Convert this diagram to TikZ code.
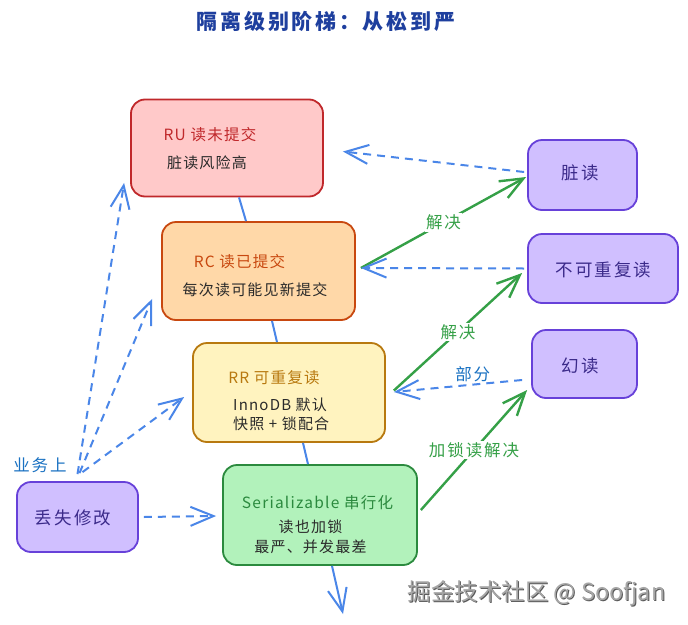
\documentclass[tikz,border=0pt]{standalone}
\usepackage{fontspec}
\setmainfont{Noto Sans CJK SC}[LetterSpace=8]
\newfontfamily\ttlfont{Noto Sans CJK SC}[LetterSpace=13]
\newfontfamily\lblfont{Noto Sans CJK SC}[LetterSpace=12]
\newfontfamily\wmfont{Noto Sans CJK SC}
\usetikzlibrary{arrows.meta}
\definecolor{ruF}{HTML}{FFC9C9}\definecolor{ruD}{HTML}{C0282B}
\definecolor{rcF}{HTML}{FFD8A8}\definecolor{rcD}{HTML}{C8480F}
\definecolor{rrF}{HTML}{FFF3BF}\definecolor{rrD}{HTML}{B8790F}
\definecolor{seF}{HTML}{B2F2BB}\definecolor{seD}{HTML}{2B8A3E}
\definecolor{puF}{HTML}{D0BFFF}\definecolor{puD}{HTML}{6741D9}
\definecolor{puT}{HTML}{3B2A8A}
\definecolor{arrB}{HTML}{4A86E8}
\definecolor{lblB}{HTML}{1971C2}
\definecolor{arrG}{HTML}{35A047}
\definecolor{ttl}{HTML}{1E3F9E}
\definecolor{subT}{HTML}{2A2A2A}
\begin{document}
\begin{tikzpicture}[x=1pt,y=-1pt,
  box/.style={rounded corners=14pt, line width=1.8pt, inner sep=0pt},
  ttext/.style={inner sep=0pt, font=\fontsize{15.5}{18}\selectfont},
  stext/.style={inner sep=0pt, text=subT, font=\fontsize{15}{18}\selectfont},
  ptext/.style={inner sep=0pt, text=puT, font=\lblfont\fontsize{17.5}{21}\selectfont},
  link/.style={draw=arrB, line width=2pt},
  dlink/.style={draw=arrB, line width=2pt, dash pattern=on 8pt off 6pt,
     -{Straight Barb[length=23pt,width=19pt]}},
  glink/.style={draw=arrG, line width=2.4pt, -{Straight Barb[length=23pt,width=19pt]}},
  glabel/.style={fill=white, inner sep=1.5pt, text=arrG, font=\lblfont\fontsize{16.5}{19}\selectfont},
  blabel/.style={inner sep=1pt, text=lblB, font=\lblfont\fontsize{16.5}{19}\selectfont}]
\useasboundingbox[fill=white] (0,0) rectangle (688,624);

% title
\node[inner sep=0pt, text=ttl, font=\ttlfont\fontsize{21}{24}\selectfont\bfseries] (title) at (326,21) {隔离级别阶梯：从松到严};

% level boxes
\node[box, fill=ruF, draw=ruD, minimum width=192pt, minimum height=97pt] (ru) at (227,148) {};
\node[box, fill=rcF, draw=rcD, minimum width=193pt, minimum height=98pt] (rc) at (258.5,271) {};
\node[box, fill=rrF, draw=rrD, minimum width=192pt, minimum height=99pt] (rr) at (289,392.5) {};
\node[box, fill=seF, draw=seD, minimum width=194pt, minimum height=100pt] (ser) at (320,515) {};

% problem boxes
\node[box, fill=puF, draw=puD, minimum width=109pt, minimum height=70pt] (dirty) at (582.5,175) {};
\node[box, fill=puF, draw=puD, minimum width=150pt, minimum height=69pt] (nonrep) at (603,268.5) {};
\node[box, fill=puF, draw=puD, minimum width=105pt, minimum height=68pt] (phantom) at (584.5,364) {};
\node[box, fill=puF, draw=puD, minimum width=121pt, minimum height=70pt] (lost) at (77.5,517) {};

% texts in level boxes
\node[ttext, text=ruD] (ru-t) at (210,135) {RU 读未提交};
\node[stext] (ru-s) at (207,163) {脏读风险高};
\node[ttext, text=rcD] (rc-t) at (239.5,262) {RC 读已提交};
\node[stext] (rc-s) at (255,290) {每次读可能见新提交};
\node[ttext, text=rrD] (rr-t) at (274,378) {RR 可重复读};
\node[stext, anchor=west] (rr-s1) at (233,405) {InnoDB 默认};
\node[stext, anchor=west] (rr-s2) at (233,424) {快照 + 锁配合};
\node[ttext, text=seD] (ser-t) at (317.5,503) {Serializable 串行化};
\node[stext] (ser-s1) at (310.5,527) {读也加锁};
\node[stext] (ser-s2) at (310.5,547) {最严、并发最差};

% texts in problem boxes
\node[ptext] (dirty-t) at (580,173) {脏读};
\node[ptext] (nonrep-t) at (603.5,270) {不可重复读};
\node[ptext] (phantom-t) at (580,366) {幻读};
\node[ptext] (lost-t) at (73,518) {丢失修改};

% ladder links
\draw[link] ([xshift=12pt]ru.south) -- ([xshift=-12.5pt]rc.north);
\draw[link] ([xshift=13.5pt]rc.south) -- ([xshift=-12pt]rr.north);
\draw[link] ([xshift=14pt]rr.south) -- ([xshift=-12pt]ser.north);
\coordinate (down) at (343,614);
\draw[link, -{Straight Barb[length=23pt,width=19pt]}] ([xshift=12pt]ser.south) -- (down);

% green "solves" arrows
\draw[glink] ([shift={(5pt,3pt)}]rc.east) -- node[glabel] (l1) {解决} ([shift={(-1pt,-2pt)}]dirty.west);
\draw[glink] ([shift={(8pt,2pt)}]rr.east) -- node[glabel] (l2) {解决} ([shift={(-5pt,-4.5pt)}]nonrep.west);
\draw[glink] ([shift={(3pt,5pt)}]ser.east) -- node[glabel] (l3) {加锁读解决} ([shift={(-4pt,-26pt)}]phantom.west);

% blue dashed arrows from problems
\draw[dlink] ([shift={(-3pt,3pt)}]dirty.west) -- ([shift={(19pt,-3.5pt)}]ru.east);
\draw[dlink] ([shift={(-3pt,0pt)}]nonrep.west) -- ([shift={(5pt,3pt)}]rc.east);
\draw[dlink] ([shift={(-9pt,-16pt)}]phantom.west) -- node[blabel, pos=0.385, above=1pt] (l4) {部分} ([shift={(8pt,0.5pt)}]rr.east);

% lost update arrows
\draw[dlink] ([shift={(5pt,0pt)}]lost.east) -- ([shift={(-6pt,-1pt)}]ser.west);
\draw[dlink] ([shift={(0pt,7pt)}]lost.north) -- ([shift={(-6pt,14.5pt)}]ru.south west);
\draw[dlink] ([shift={(2pt,8pt)}]lost.north) -- ([shift={(-9pt,22pt)}]rc.south west);
\draw[dlink] ([shift={(5pt,9pt)}]lost.north) -- ([shift={(-8pt,-4.5pt)}]rr.west);
\node[blabel] (l5) at (40,465) {业务上};

% watermark
\node[inner sep=0pt, text=black!65, font=\wmfont\fontsize{23.5}{27}\selectfont] (wm-s) at (537.5,594) {掘金技术社区 @ Soofjan};
\node[inner sep=0pt, text=black!35, font=\wmfont\fontsize{23.5}{27}\selectfont] (wm) at (536.5,593) {掘金技术社区 @ Soofjan};
\end{tikzpicture}
\end{document}
